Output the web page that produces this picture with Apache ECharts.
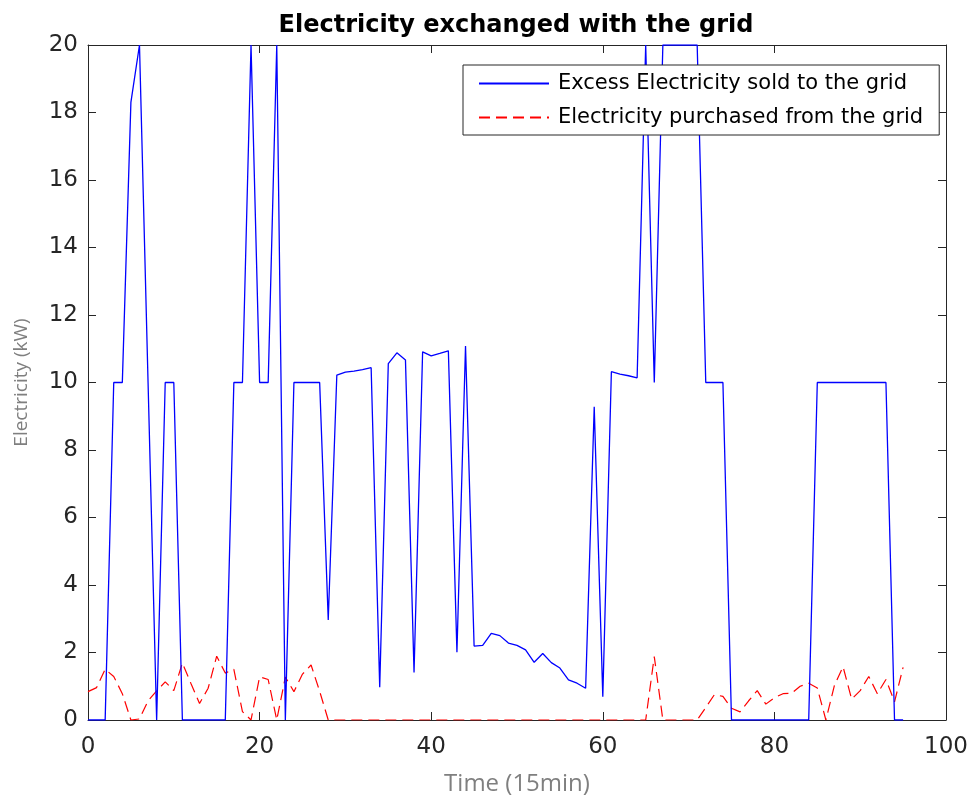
<!DOCTYPE html>
<html>
<head>
<meta charset="utf-8">
<title>Electricity exchanged with the grid</title>
<script src="https://cdn.jsdelivr.net/npm/echarts@6/dist/echarts.min.js"></script>
<style>
  html, body { margin: 0; padding: 0; background: #ffffff; }
  #chart { width: 973px; height: 807px; }
</style>
</head>
<body>
<div id="chart"></div>
<script>
// Power exchanged with the grid, one value per 15-minute step (kW)
const soldToGrid = [
  0, 0, 0, 10, 10, 18.3, 20, 10, 0, 10,
  10, 0, 0, 0, 0, 0, 0, 10, 10, 20,
  10, 10, 20, 0, 10, 10, 10, 10, 2.96, 10.22,
  10.31, 10.34, 10.38, 10.44, 0.97, 10.56, 10.88, 10.67, 1.41, 10.91,
  10.79, 10.86, 10.94, 2.01, 11.08, 2.19, 2.21, 2.57, 2.50, 2.28,
  2.21, 2.08, 1.71, 1.97, 1.70, 1.54, 1.19, 1.09, 0.94, 9.28,
  0.69, 10.32, 10.25, 10.2, 10.14, 20, 10, 20, 20, 20,
  20, 20, 10, 10, 10, 0, 0, 0, 0, 0,
  0, 0, 0, 0, 0, 10, 10, 10, 10, 10,
  10, 10, 10, 10, 0, 0
];

const purchasedFromGrid = [
  0.84, 0.96, 1.50, 1.29, 0.78, 0, 0.03, 0.57, 0.86, 1.13,
  0.87, 1.69, 1.08, 0.49, 0.94, 1.89, 1.39, 1.50, 0.25, 0,
  1.28, 1.20, 0, 1.27, 0.84, 1.36, 1.63, 0.85, 0, 0,
  0, 0, 0, 0, 0, 0, 0, 0, 0, 0,
  0, 0, 0, 0, 0, 0, 0, 0, 0, 0,
  0, 0, 0, 0, 0, 0, 0, 0, 0, 0,
  0, 0, 0, 0, 0, 0, 1.88, 0, 0, 0,
  0, 0, 0.37, 0.75, 0.70, 0.35, 0.24, 0.57, 0.87, 0.47,
  0.66, 0.78, 0.79, 1.00, 1.09, 0.95, 0, 1.03, 1.58, 0.62,
  0.87, 1.29, 0.78, 1.20, 0.54, 1.56
];

const seriesNames = [
  'Excess Electricity sold to the grid',
  'Electricity purchased from the grid'
];

const xTicks = { min: 0, max: 100, interval: 20 };
const yTicks = { min: 0, max: 20, interval: 2 };

// pair each value with its time-step index
const toPoints = arr => arr.map((v, i) => [i, v]);

const axisColor = '#262626';
const labelFont = 'DejaVu Sans, Verdana, sans-serif';
const nameFont = 'Open Sans, sans-serif';

const chart = echarts.init(document.getElementById('chart'), null, { renderer: 'canvas' });

// axis with a plain frame line and inward ticks
const boxAxis = (extra) => Object.assign({
  type: 'value',
  axisLine: { show: true, onZero: false, lineStyle: { color: axisColor, width: 1 } },
  axisTick: { show: true, inside: true, length: 8, lineStyle: { color: axisColor, width: 1 } },
  splitLine: { show: false }
}, extra);

chart.setOption({
  animation: false,
  backgroundColor: '#ffffff',
  title: {
    text: 'Electricity exchanged with the grid',
    left: 511,
    top: 9,
    textAlign: 'center',
    textStyle: { fontFamily: labelFont, fontWeight: 'bold', fontSize: 24, color: '#000000' }
  },
  grid: { left: 88, right: 27, top: 45, bottom: 87 },
  legend: {
    data: seriesNames,
    orient: 'vertical',
    left: 463,
    top: 65,
    padding: [8, 16, 7, 15],
    itemGap: 13,
    itemWidth: 70,
    itemHeight: 14,
    backgroundColor: '#ffffff',
    borderColor: axisColor,
    borderWidth: 1,
    borderRadius: 0,
    itemStyle: { color: 'transparent', borderColor: 'transparent', borderWidth: 0, opacity: 0 },
    textStyle: { fontFamily: labelFont, fontSize: 21, color: '#000000', lineHeight: 21, padding: [0, 0, 0, 4] }
  },
  xAxis: [
    boxAxis({
      position: 'bottom',
      min: xTicks.min, max: xTicks.max, interval: xTicks.interval,
      name: 'Time (15min)',
      nameLocation: 'middle',
      nameGap: 52,
      nameTextStyle: { fontFamily: nameFont, fontSize: 24, color: '#7f7f7f' },
      axisLabel: { show: true, margin: 16, fontFamily: labelFont, fontSize: 23, color: axisColor }
    }),
    boxAxis({
      position: 'top',
      min: xTicks.min, max: xTicks.max, interval: xTicks.interval,
      axisLabel: { show: false }
    })
  ],
  yAxis: [
    boxAxis({
      position: 'left',
      min: yTicks.min, max: yTicks.max, interval: yTicks.interval,
      name: 'Electricity (kW)',
      nameLocation: 'middle',
      nameGap: 57,
      nameTextStyle: { fontFamily: nameFont, fontSize: 19, color: '#7f7f7f' },
      axisLabel: { show: true, margin: 10, fontFamily: labelFont, fontSize: 23, color: axisColor }
    }),
    boxAxis({
      position: 'right',
      min: yTicks.min, max: yTicks.max, interval: yTicks.interval,
      axisLabel: { show: false }
    })
  ],
  series: [
    {
      name: seriesNames[0],
      type: 'line',
      xAxisIndex: 0,
      yAxisIndex: 0,
      data: toPoints(soldToGrid),
      symbol: 'none',
      clip: true,
      lineStyle: { color: '#0000ff', width: 1.3, type: 'solid' },
      itemStyle: { color: '#0000ff' },
      z: 3
    },
    {
      name: seriesNames[1],
      type: 'line',
      xAxisIndex: 0,
      yAxisIndex: 0,
      data: toPoints(purchasedFromGrid),
      symbol: 'none',
      clip: true,
      lineStyle: { color: '#ff0000', width: 1.2, type: [11, 6] },
      itemStyle: { color: '#ff0000' },
      z: 2
    }
  ]
});
</script>
</body>
</html>
